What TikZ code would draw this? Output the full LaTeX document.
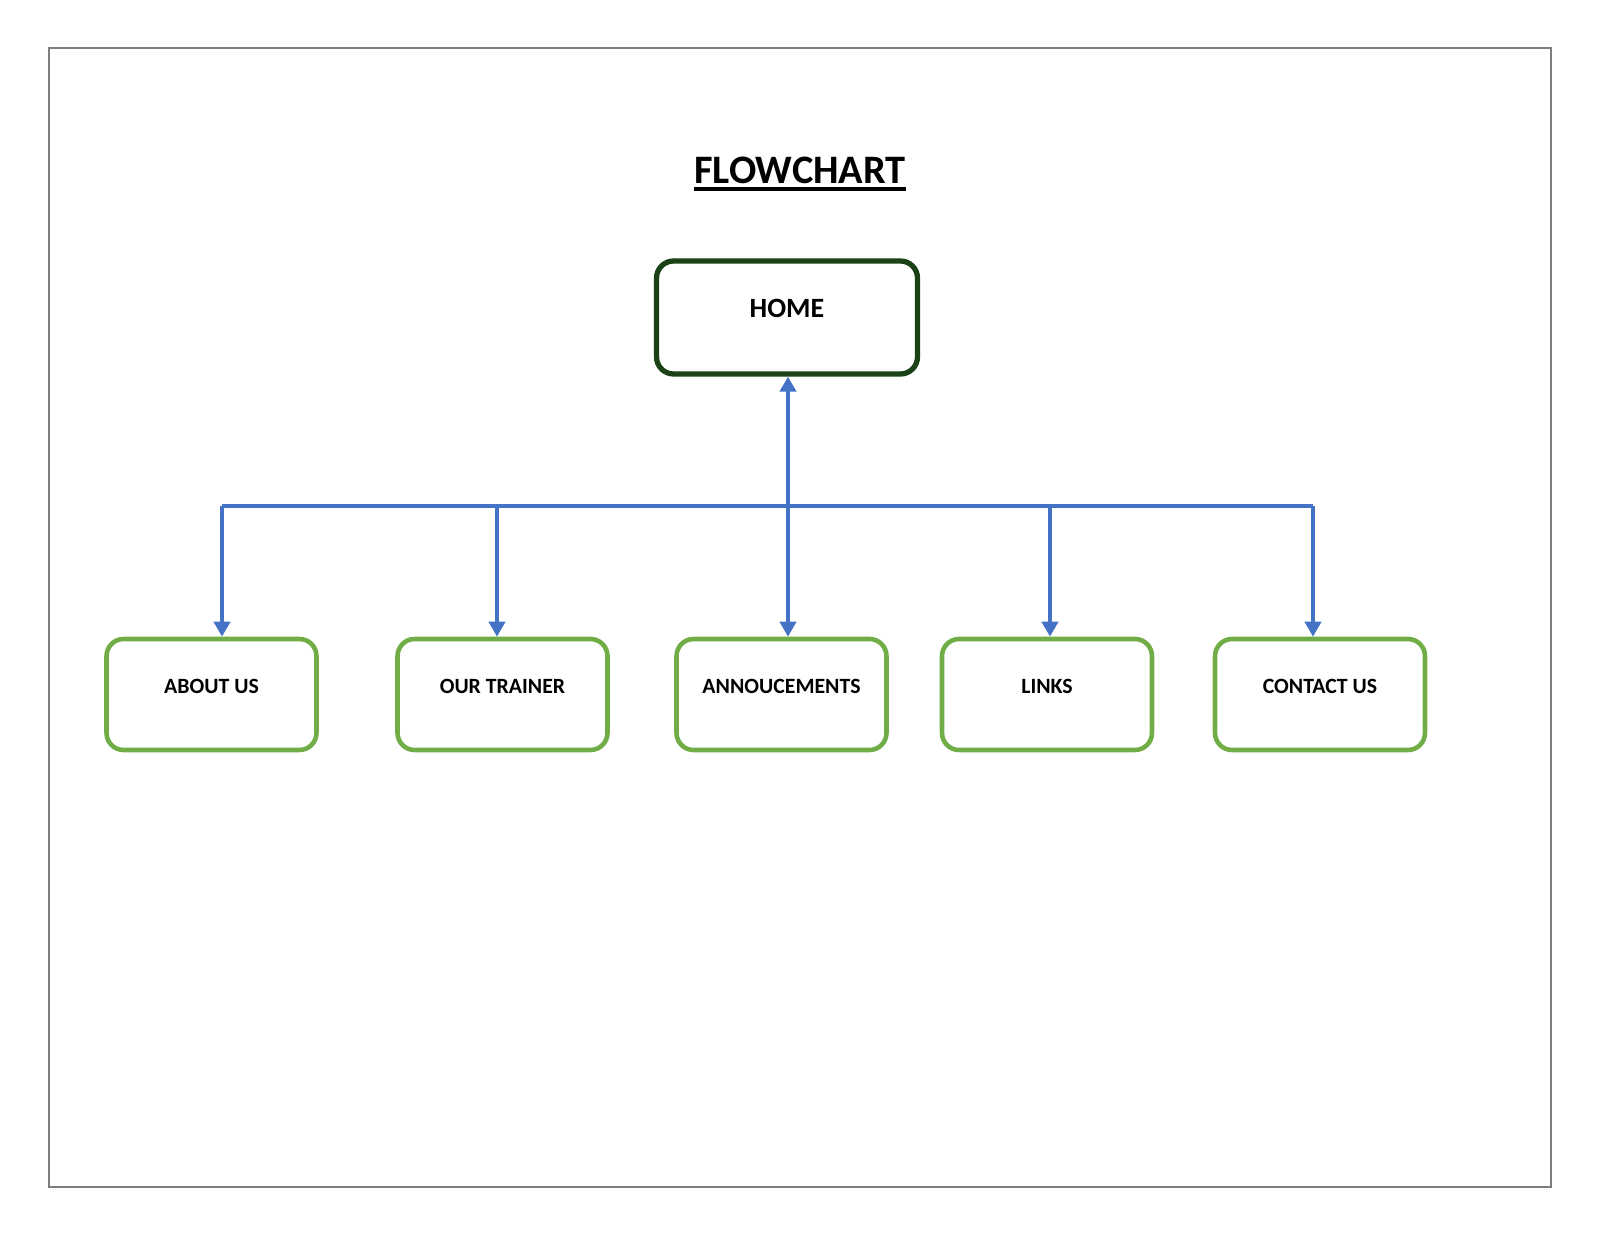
\documentclass[tikz,border=0pt]{standalone}
\usepackage{fontspec}
\setmainfont{Carlito}
\usepackage{tikz}
\usetikzlibrary{arrows.meta,positioning}
\usepackage{xcolor}
\definecolor{fcblue}{RGB}{68,114,196}
\definecolor{fcgreen}{RGB}{112,173,71}
\definecolor{fcdark}{RGB}{26,66,22}
\definecolor{fcframe}{RGB}{125,125,125}
\tikzstyle{arrow} = [line width=2.6pt,-{Triangle[width=0.32cm,length=0.3cm]},color=fcblue]
\tikzstyle{pagebox} = [draw=fcgreen, line width=2.6pt, rounded corners=0.34cm, inner sep=0,
  minimum width=4.2cm, minimum height=2.22cm, text height=0.28cm, text depth=0.32cm,
  font=\bfseries\fontsize{12.4}{14}\selectfont]
\tikzstyle{homebox} = [pagebox, draw=fcdark, line width=3pt, minimum width=5.22cm,
  minimum height=2.26cm, text height=0.36cm, text depth=0.36cm,
  font=\bfseries\fontsize{15.9}{18}\selectfont]

\begin{document}
\begin{tikzpicture}[x=0.02cm, y=-0.02cm]
\useasboundingbox (0,0) rectangle (1600,1236);

% Page frame
\draw[line width=1.1pt, fcframe] (49,48) rectangle (1551,1187);

% Title
\node[inner sep=0, anchor=base, font=\bfseries\fontsize{23}{27}\selectfont] (title) at (800,184) {FLOWCHART};
\draw[line width=2.1pt] ([yshift=-0.1cm]title.base west) -- ([yshift=-0.1cm]title.base east);

% Home
\node[homebox] (home) at (787,317.5) {HOME};

% Pages
\node[pagebox] (about) at (211.5,694.5) {ABOUT US};
\node[pagebox] (trainer) at (502.5,694.5) {OUR TRAINER};
\node[pagebox] (annou) at (781.5,694.5) {ANNOUCEMENTS};
\node[pagebox] (links) at (1047,694.5) {LINKS};
\node[pagebox] (contact) at (1320,694.5) {CONTACT US};

% Bus line
\coordinate (j1) at (222,506);
\coordinate (j2) at (497,506);
\coordinate (j3) at (788,506);
\coordinate (j4) at (1050,506);
\coordinate (j5) at (1313,506);
\draw[line width=2.6pt, fcblue] (j1) -- (j5);

% Arrows
\draw[arrow, {Triangle[width=0.32cm,length=0.3cm]}-{Triangle[width=0.32cm,length=0.3cm]}] (j3 |- home.south) -- (j3 |- annou.north);
\foreach \j/\n in {j1/about, j2/trainer, j4/links, j5/contact} {
    \draw[arrow] (\j) -- (\j |- \n.north);
}
\end{tikzpicture}
\end{document}
